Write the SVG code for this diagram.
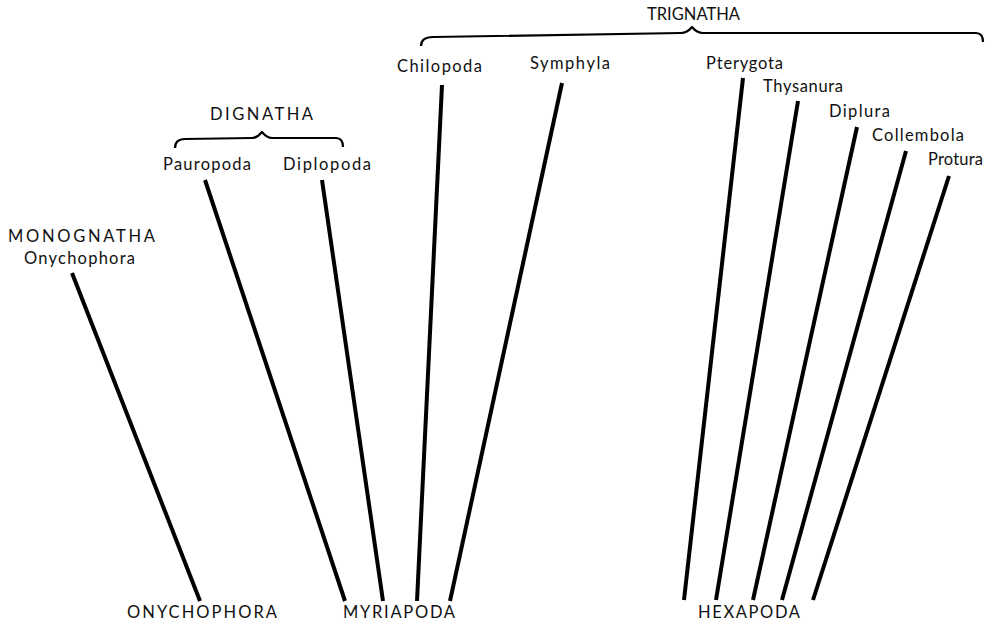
<svg xmlns="http://www.w3.org/2000/svg" width="992" height="623" viewBox="0 0 992 623">
<style>
text{font-family:Lato,"Liberation Sans",sans-serif;font-size:16.5px;fill:#111;}
.ln{stroke:#000;stroke-width:4;stroke-linecap:butt;fill:none;}
.br{stroke:#000;stroke-width:2.2;fill:none;stroke-linejoin:round;}
</style>
<rect width="992" height="623" fill="#fff"/>
<g id="connectors">
<line class="ln" x1="72" y1="273" x2="200" y2="601"/>
<line class="ln" x1="205" y1="180" x2="345" y2="601"/>
<line class="ln" x1="322" y1="180" x2="383" y2="601"/>
<line class="ln" x1="442" y1="85" x2="417" y2="601"/>
<line class="ln" x1="562" y1="83" x2="450" y2="601"/>
<line class="ln" x1="743" y1="78" x2="684" y2="600"/>
<line class="ln" x1="798" y1="101" x2="716" y2="600"/>
<line class="ln" x1="857" y1="127" x2="753" y2="600"/>
<line class="ln" x1="906" y1="151" x2="782" y2="600"/>
<line class="ln" x1="949" y1="176" x2="813" y2="600"/>
</g>
<g id="trignatha">
<text x="647" y="20" textLength="93" lengthAdjust="spacing">TRIGNATHA</text>
<path class="br" d="M421,46 Q421,37 433,37 L681,33 Q687,33 692,27 Q697,33 703,33 L976,33 Q983,33 983,42"/>
</g>
<g id="dignatha">
<text x="210" y="120" textLength="103" lengthAdjust="spacing">DIGNATHA</text>
<path class="br" d="M175,148 Q175,139 185,139 L252,138 Q257,138 262,132 Q267,138 272,138 L336,138 Q343,138 343,147"/>
</g>
<g id="monognatha">
<text x="8" y="242" textLength="147" lengthAdjust="spacing">MONOGNATHA</text>
</g>
<g id="onychophora-top"><text x="24" y="264" textLength="111" lengthAdjust="spacing">Onychophora</text></g>
<g id="pauropoda"><text x="163" y="170" textLength="88" lengthAdjust="spacing">Pauropoda</text></g>
<g id="diplopoda"><text x="283" y="170" textLength="88" lengthAdjust="spacing">Diplopoda</text></g>
<g id="chilopoda"><text x="397" y="72" textLength="85" lengthAdjust="spacing">Chilopoda</text></g>
<g id="symphyla"><text x="530" y="69" textLength="80" lengthAdjust="spacing">Symphyla</text></g>
<g id="pterygota"><text x="706" y="69" textLength="77" lengthAdjust="spacing">Pterygota</text></g>
<g id="thysanura"><text x="763" y="92" textLength="80" lengthAdjust="spacing">Thysanura</text></g>
<g id="diplura"><text x="829" y="117" textLength="61" lengthAdjust="spacing">Diplura</text></g>
<g id="collembola"><text x="872" y="141" textLength="92" lengthAdjust="spacing">Collembola</text></g>
<g id="protura"><text x="928" y="165" textLength="55" lengthAdjust="spacing">Protura</text></g>
<g id="onychophora"><text x="127" y="618" textLength="150" lengthAdjust="spacing">ONYCHOPHORA</text></g>
<g id="myriapoda"><text x="343" y="618" textLength="112" lengthAdjust="spacing">MYRIAPODA</text></g>
<g id="hexapoda"><text x="698" y="618" textLength="102" lengthAdjust="spacing">HEXAPODA</text></g>
</svg>
